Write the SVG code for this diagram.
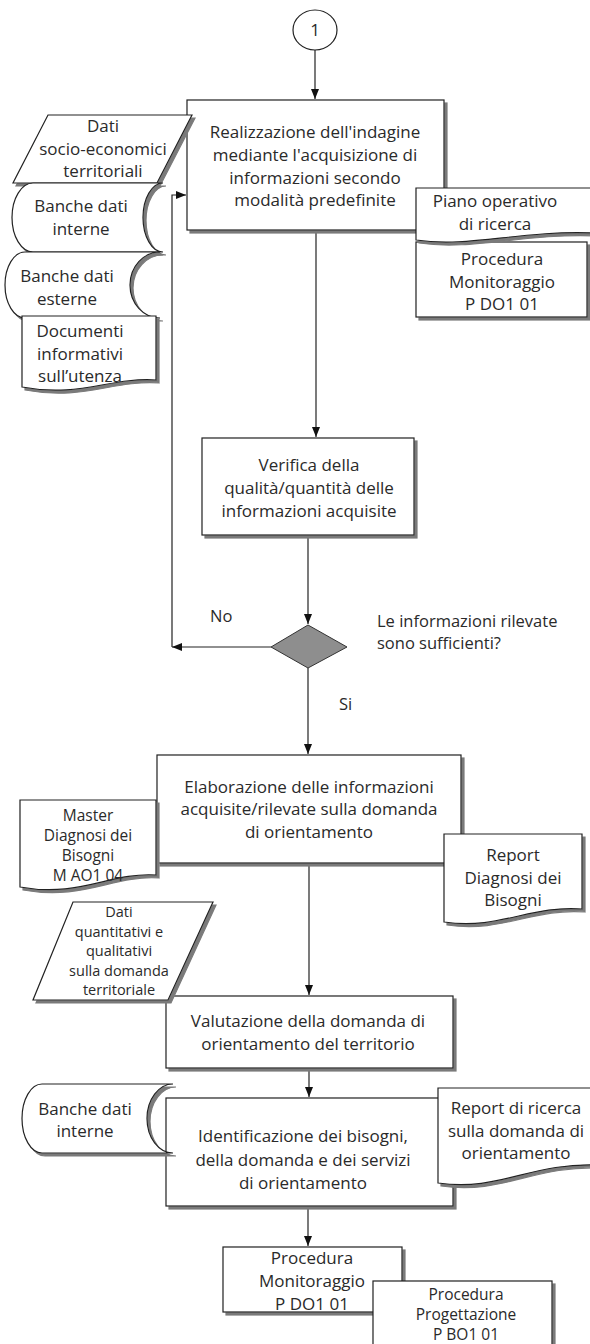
<svg xmlns="http://www.w3.org/2000/svg" width="590" height="1344" viewBox="0 0 590 1344">
<style>
.shp{fill:#fff;stroke:#222;stroke-width:1.2;filter:url(#sh)}
.t{font-family:"Open Sans","Liberation Sans",sans-serif;font-size:17px;fill:#2a2a2a;text-anchor:middle}
.s{font-size:15.5px}
.xs{font-size:14.5px}
.l{font-family:"Open Sans","Liberation Sans",sans-serif;font-size:16.5px;fill:#2a2a2a}
.c{fill:none;stroke:#222;stroke-width:1.2}
</style>
<defs>
<filter id="sh" x="-10%" y="-10%" width="130%" height="130%">
<feDropShadow dx="3" dy="3" stdDeviation="0.5" flood-color="#7a7a7a" flood-opacity="1"/>
</filter>
<marker id="ah" viewBox="0 0 10 8" refX="10" refY="4" markerWidth="10" markerHeight="8" markerUnits="userSpaceOnUse" orient="auto">
<path d="M0,0 L10,4 L0,8 Z" fill="#111"/>
</marker>
</defs>

<g id="connectors">
<path class="c" d="M315,50 V99" marker-end="url(#ah)"/>
<path class="c" d="M316,233 V437" marker-end="url(#ah)"/>
<path class="c" d="M308,538 V624" marker-end="url(#ah)"/>
<path class="c" d="M271,647 H172" marker-end="url(#ah)"/>
<path class="c" d="M172,647 V195 H186" marker-end="url(#ah)"/>
<path class="c" d="M308,668 V754" marker-end="url(#ah)"/>
<path class="c" d="M309,866 V995" marker-end="url(#ah)"/>
<path class="c" d="M309,1071 V1097" marker-end="url(#ah)"/>
<path class="c" d="M308,1209 V1246" marker-end="url(#ah)"/>
</g>

<g id="start">
<ellipse cx="315" cy="30" rx="22" ry="20" fill="#fff" stroke="#222" stroke-width="1.2"/>
<text class="t" x="315" y="36">1</text>
</g>

<g id="box1">
<rect class="shp" x="187" y="100" width="257" height="130"/>
<text class="t" x="315" y="138">Realizzazione dell'indagine</text>
<text class="t" x="315" y="161">mediante l'acquisizione di</text>
<text class="t" x="315" y="184">informazioni secondo</text>
<text class="t" x="315" y="206">modalità predefinite</text>
</g>

<g id="dati-socio">
<path class="shp" d="M48,115 H192 L157,183 H13 Z"/>
<text class="t" x="103" y="132">Dati</text>
<text class="t" x="103" y="155">socio-economici</text>
<text class="t" x="103" y="177">territoriali</text>
</g>

<g id="banche-interne-1">
<path class="shp" d="M33,183 H163 A20,34.5 0 0 0 163,252 H33 A21,34.5 0 0 1 33,183 Z"/>
<text class="t" x="81" y="212">Banche dati</text>
<text class="t" x="81" y="235">interne</text>
</g>

<g id="banche-esterne">
<path class="shp" d="M25,252 H160 A30,33 0 0 0 160,318 H25 A20,33 0 0 1 25,252 Z"/>
<text class="t" x="67" y="282">Banche dati</text>
<text class="t" x="67" y="305">esterne</text>
</g>

<g id="documenti">
<path class="shp" d="M22,316 H156 V380 C110,377 80,398 22,387 Z"/>
<text class="t" x="80" y="337">Documenti</text>
<text class="t" x="80" y="360">informativi</text>
<text class="t" x="80" y="382">sull’utenza</text>
</g>

<g id="proc-monitoraggio-1">
<rect class="shp" x="416" y="242" width="171" height="75"/>
<text class="t" x="502" y="265">Procedura</text>
<text class="t" x="502" y="288">Monitoraggio</text>
<text class="t" x="502" y="310">P DO1 01</text>
</g>

<g id="piano-operativo">
<path class="shp" d="M416,188 H594 V233 C520,230 470,248 416,240 Z"/>
<text class="t" x="495" y="207">Piano operativo</text>
<text class="t" x="495" y="230">di ricerca</text>
</g>

<g id="box2">
<rect class="shp" x="202" y="438" width="212" height="97"/>
<text class="t" x="309" y="471">Verifica della</text>
<text class="t" x="309" y="494">qualità/quantità delle</text>
<text class="t" x="309" y="517">informazioni acquisite</text>
</g>

<g id="decision">
<path d="M308,625 L347,647 L308,668 L271,647 Z" fill="#8e8e8e" stroke="#333" stroke-width="1"/>
</g>

<g id="labels">
<text class="l" x="210" y="622">No</text>
<text class="l" x="377" y="627">Le informazioni rilevate</text>
<text class="l" x="377" y="649">sono sufficienti?</text>
<text class="l" x="339" y="710">Si</text>
</g>

<g id="box3">
<rect class="shp" x="157" y="755" width="304" height="108"/>
<text class="t" x="309" y="793">Elaborazione delle informazioni</text>
<text class="t" x="309" y="815">acquisite/rilevate sulla domanda</text>
<text class="t" x="309" y="838">di orientamento</text>
</g>

<g id="master">
<path class="shp" d="M20,800 H156 V875 C110,872 80,898 20,887 Z"/>
<text class="t s" x="88" y="821">Master</text>
<text class="t s" x="88" y="841">Diagnosi dei</text>
<text class="t s" x="88" y="861">Bisogni</text>
<text class="t s" x="88" y="881">M AO1 04</text>
</g>

<g id="report-diagnosi">
<path class="shp" d="M444,834 H582 V909 C530,905 500,930 444,922 Z"/>
<text class="t" x="513" y="861">Report</text>
<text class="t" x="513" y="884">Diagnosi dei</text>
<text class="t" x="513" y="906">Bisogni</text>
</g>

<g id="box4">
<rect class="shp" x="166" y="996" width="287" height="72"/>
<text class="t" x="308" y="1027">Valutazione della domanda di</text>
<text class="t" x="308" y="1050">orientamento del territorio</text>
</g>

<g id="dati-quantitativi">
<path class="shp" d="M73,902 H213 L168,1000 H33 Z"/>
<text class="t xs" x="119" y="917">Dati</text>
<text class="t xs" x="119" y="936.5">quantitativi e</text>
<text class="t xs" x="119" y="956">qualitativi</text>
<text class="t xs" x="119" y="975.5">sulla domanda</text>
<text class="t xs" x="119" y="995">territoriale</text>
</g>

<g id="box5">
<rect class="shp" x="166" y="1098" width="287" height="108"/>
<text class="t" x="303" y="1142">Identificazione dei bisogni,</text>
<text class="t" x="303" y="1166">della domanda e dei servizi</text>
<text class="t" x="303" y="1189">di orientamento</text>
</g>

<g id="banche-interne-2">
<path class="shp" d="M42,1084 H173 A26,34.5 0 0 0 173,1153 H42 A20,34.5 0 0 1 42,1084 Z"/>
<text class="t" x="85" y="1115">Banche dati</text>
<text class="t" x="85" y="1137">interne</text>
</g>

<g id="report-ricerca">
<path class="shp" d="M438,1088 H600 V1165 C530,1162 500,1192 438,1183 Z"/>
<text class="t" x="516" y="1114">Report di ricerca</text>
<text class="t" x="516" y="1137">sulla domanda di</text>
<text class="t" x="516" y="1159">orientamento</text>
</g>

<g id="proc-monitoraggio-2">
<rect class="shp" x="223" y="1247" width="179" height="65"/>
<text class="t" x="312" y="1264">Procedura</text>
<text class="t" x="312" y="1287">Monitoraggio</text>
<text class="t" x="312" y="1310">P DO1 01</text>
</g>

<g id="proc-progettazione">
<rect class="shp" x="373" y="1281" width="179" height="80"/>
<text class="t s" x="466" y="1300">Procedura</text>
<text class="t s" x="466" y="1320">Progettazione</text>
<text class="t s" x="466" y="1340">P BO1 01</text>
</g>
</svg>
